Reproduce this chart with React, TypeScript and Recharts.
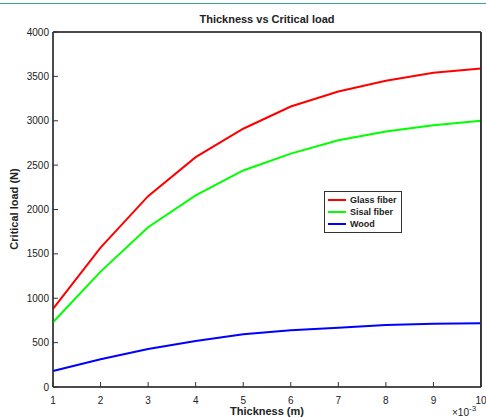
import { CartesianGrid, Line, LineChart, XAxis, YAxis } from 'recharts';

const thickness = [1, 2, 3, 4, 5, 6, 7, 8, 9, 10];
const glassFiber = [880, 1570, 2150, 2590, 2910, 3160, 3330, 3450, 3540, 3590];
const sisalFiber = [730, 1300, 1800, 2160, 2440, 2630, 2780, 2880, 2950, 3000];
const wood = [180, 312, 428, 518, 594, 639, 668, 698, 713, 718];
const xTicks = [1, 2, 3, 4, 5, 6, 7, 8, 9, 10];
const yTicks = [0, 500, 1000, 1500, 2000, 2500, 3000, 3500, 4000];

const series = [
  { key: 'glass', name: 'Glass fiber', color: '#ff0000' },
  { key: 'sisal', name: 'Sisal fiber', color: '#00ff00' },
  { key: 'wood', name: 'Wood', color: '#0000ff' },
];

const data = thickness.map((t, i) => ({
  t,
  glass: glassFiber[i],
  sisal: sisalFiber[i],
  wood: wood[i],
}));

const font = 'Arial, "Liberation Sans", sans-serif';
const tickStyle = { fill: '#222', fontSize: 10, fontFamily: font };

// legend drawn as a plain box so it takes no room from the plot
const LegendBox = () => (
  <div
    style={{
      position: 'absolute',
      left: 324,
      top: 191,
      border: '1px solid #333',
      background: '#fff',
      padding: '2px 4px 2px 3px',
      fontFamily: font,
      fontSize: 9,
      fontWeight: 'bold',
      color: '#222',
      lineHeight: '12px',
    }}
  >
    {series.map((s) => (
      <div key={s.key} style={{ display: 'flex', alignItems: 'center' }}>
        <span style={{ width: 18, height: 2, background: s.color, marginRight: 4 }} />
        <span>{s.name}</span>
      </div>
    ))}
  </div>
);

export default function App() {
  return (
    <div style={{ position: 'relative', width: 486, height: 418, background: '#fff', overflow: 'hidden' }}>
      <style>{'body{margin:0;overflow:hidden}'}</style>
      <div
        style={{ position: 'absolute', left: 0, top: 3, width: 486, height: 1, background: '#3aa69a' }}
      />
      <LineChart width={486} height={418} data={data} margin={{ top: 30, right: 1, left: 0, bottom: 0 }}>
        {/* frame round the plot area */}
        <CartesianGrid
          stroke="#333"
          strokeWidth={1.5}
          strokeDasharray="0"
          verticalCoordinatesGenerator={({ offset }: any) => [offset.left, offset.left + offset.width]}
          horizontalCoordinatesGenerator={({ offset }: any) => [offset.top, offset.top + offset.height]}
        />
        <XAxis
          dataKey="t"
          type="number"
          domain={[1, 10]}
          ticks={xTicks}
          height={31}
          stroke="#333"
          tickSize={-5}
          tickMargin={15}
          tick={tickStyle}
          interval={0}
        />
        <XAxis
          xAxisId="top"
          orientation="top"
          dataKey="t"
          type="number"
          domain={[1, 10]}
          ticks={xTicks}
          height={2}
          stroke="#333"
          tickSize={-5}
          tick={false}
          interval={0}
        />
        <YAxis
          type="number"
          domain={[0, 4000]}
          ticks={yTicks}
          width={53}
          stroke="#333"
          tickSize={-5}
          tickMargin={9}
          tick={tickStyle}
          interval={0}
        />
        <YAxis
          yAxisId="right"
          orientation="right"
          type="number"
          domain={[0, 4000]}
          ticks={yTicks}
          width={4}
          stroke="#333"
          strokeWidth={1.5}
          tickSize={-5}
          tick={false}
          interval={0}
        />
        {series.map((s) => (
          <Line
            key={s.key}
            dataKey={s.key}
            name={s.name}
            stroke={s.color}
            strokeWidth={2}
            dot={false}
            type="linear"
            isAnimationActive={false}
          />
        ))}
        {/* invisible copy so the top and right frame axes get drawn */}
        <Line
          xAxisId="top"
          yAxisId="right"
          dataKey="wood"
          stroke="transparent"
          dot={false}
          legendType="none"
          isAnimationActive={false}
        />
        <text x={267} y={23} textAnchor="middle" fontFamily={font} fontSize={11} fontWeight="bold" fill="#222">
          Thickness vs Critical load
        </text>
        <text
          x={18}
          y={209}
          textAnchor="middle"
          transform="rotate(-90 18 209)"
          fontFamily={font}
          fontSize={11}
          fontWeight="bold"
          fill="#222"
        >
          Critical load (N)
        </text>
        <text x={267} y={415} textAnchor="middle" fontFamily={font} fontSize={11} fontWeight="bold" fill="#222">
          Thickness (m)
        </text>
        <text x={452} y={416} fontFamily={font} fontSize={10} fill="#222">
          ×10
          <tspan dy={-5} fontSize={8}>
            -3
          </tspan>
        </text>
      </LineChart>
      {/* right edge of the axes box */}
      <div style={{ position: 'absolute', left: 480, top: 32, width: 1, height: 355, background: '#333' }} />
      <LegendBox />
    </div>
  );
}
